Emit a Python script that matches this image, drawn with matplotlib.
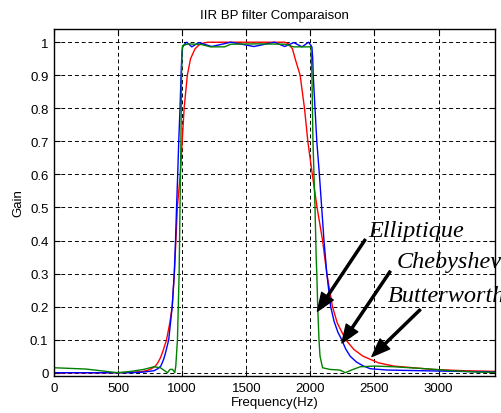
import matplotlib
matplotlib.use("Agg")
import matplotlib.pyplot as plt
from matplotlib.ticker import FormatStrFormatter

# Butterworth (red)
butter_f = [0, 400, 500, 600, 680, 730, 760, 790, 810, 830, 845, 862, 878, 903, 922,
            939, 951, 962, 985, 1000, 1015, 1040, 1065, 1100, 1140, 1200, 1800,
            1829, 1860, 1881, 1920, 1954, 1980, 2015, 2052, 2095, 2128, 2172, 2210,
            2275, 2340, 2410, 2530, 2650, 2800, 2950, 3200, 3440]
butter_g = [0.0, 0.0, 0.0, 0.001, 0.003, 0.007, 0.012, 0.02, 0.03, 0.045, 0.06, 0.08,
            0.1, 0.15, 0.2, 0.3, 0.4, 0.5, 0.6, 0.7, 0.8, 0.9, 0.95, 0.98, 0.995,
            1.0, 1.0, 0.995, 0.98, 0.95, 0.9, 0.8, 0.7, 0.6, 0.5, 0.4, 0.3, 0.2,
            0.15, 0.1, 0.07, 0.05, 0.03, 0.02, 0.015, 0.01, 0.006, 0.004]

# Chebyshev (blue)
cheby_f = [0, 600, 700, 780, 810, 833, 855, 870, 895, 922, 938, 948, 956, 965, 973,
           983, 991, 996, 1003, 1020, 1035, 1075, 1130, 1230, 1380, 1560, 1720,
           1800, 1870, 1935, 1985, 2005, 2012, 2018, 2022, 2036, 2050, 2070, 2088,
           2106, 2128, 2158, 2185, 2215, 2244, 2275, 2310, 2360, 2415, 2467, 2600,
           3000, 3440]
cheby_g = [0.0, 0.0, 0.002, 0.006, 0.012, 0.02, 0.04, 0.06, 0.1, 0.2, 0.3, 0.4, 0.5,
           0.6, 0.7, 0.8, 0.9, 0.95, 0.985, 0.995, 1.0, 0.986, 0.999, 0.987, 1.0,
           0.987, 1.0, 0.987, 0.999, 0.986, 1.0, 0.99, 0.985, 0.95, 0.9, 0.8, 0.7,
           0.6, 0.5, 0.4, 0.3, 0.2, 0.155, 0.122, 0.1, 0.072, 0.05, 0.032, 0.02,
           0.012, 0.008, 0.005, 0.002]

# Elliptique (green)
ellip_f = [0, 250, 450, 500, 600, 700, 780, 830, 870, 885, 905, 925, 942, 950, 963,
           976, 983, 990, 995, 998, 1003, 1050, 1150, 1220, 1330, 1380, 1600, 1800,
           1870, 1990, 2005, 2012, 2020, 2036, 2045, 2050, 2057, 2067, 2075, 2095,
           2150, 2230, 2272, 2320, 2390, 2500, 2650, 2900, 3100, 3300, 3440]
ellip_g = [0.015, 0.011, 0.002, 0.0, 0.004, 0.01, 0.018, 0.015, 0.004, 0.0, 0.01,
           0.01, 0.0, 0.02, 0.1, 0.3, 0.5, 0.7, 0.9, 0.97, 0.99, 0.995, 0.993, 0.986,
           0.986, 0.994, 0.995, 0.994, 0.986, 0.986, 0.985, 0.9, 0.7, 0.5, 0.35, 0.3,
           0.2, 0.1, 0.05, 0.015, 0.01, 0.008, 0.0, 0.008, 0.018, 0.02, 0.018,
           0.012, 0.006, 0.002, 0.001]

xticks = [0, 500, 1000, 1500, 2000, 2500, 3000]
yticks = [0, 0.1, 0.2, 0.3, 0.4, 0.5, 0.6, 0.7, 0.8, 0.9, 1.0]

# (label, text position, arrow tail, arrow tip)
notes = [
    ('Elliptique', (2451, 0.415), (2428, 0.403), (2055, 0.186)),
    ('Chebyshev', (2675, 0.319), (2623, 0.307), (2246, 0.090)),
    ('Butterworth', (2607, 0.216), (2857, 0.191), (2480, 0.049)),
]

plt.rcParams['font.family'] = ['Liberation Sans', 'DejaVu Sans']

fig = plt.figure(figsize=(5.02, 4.14), dpi=100)
ax = fig.add_axes([54 / 502, 37 / 414, 441 / 502, 347 / 414])

ax.plot(butter_f, butter_g, color='#ff0000', lw=1)
ax.plot(cheby_f, cheby_g, color='#0000ff', lw=1)
ax.plot(ellip_f, ellip_g, color='#008000', lw=1)

ax.set_xlim(0, 3440)
ax.set_ylim(-0.01, 1.04)
ax.set_xticks(xticks)
ax.set_yticks(yticks)
ax.yaxis.set_major_formatter(FormatStrFormatter('%g'))
ax.tick_params(direction='in', length=4, top=True, right=True,
               labelsize=9.5, pad=4, colors='black')
ax.grid(True, color='black', linestyle=(0, (4, 3)), linewidth=0.7)
for s in ax.spines.values():
    s.set_linewidth(1)

ax.set_title('IIR BP filter Comparaison', fontsize=9.5, pad=8)
ax.set_xlabel('Frequency(Hz)', fontsize=9.5, labelpad=2)
ax.set_ylabel('Gain', fontsize=9.5, labelpad=4)

for label, tpos, tail, tip in notes:
    ax.annotate('', xy=tip, xytext=tail,
                arrowprops=dict(facecolor='black', edgecolor='black',
                                width=1.5, headwidth=10, headlength=13, shrink=0))
    ax.text(tpos[0], tpos[1], label, family='Liberation Serif', style='italic',
            fontsize=17.5, ha='left', va='baseline', clip_on=False)

fig.savefig('out.png', dpi=100)
